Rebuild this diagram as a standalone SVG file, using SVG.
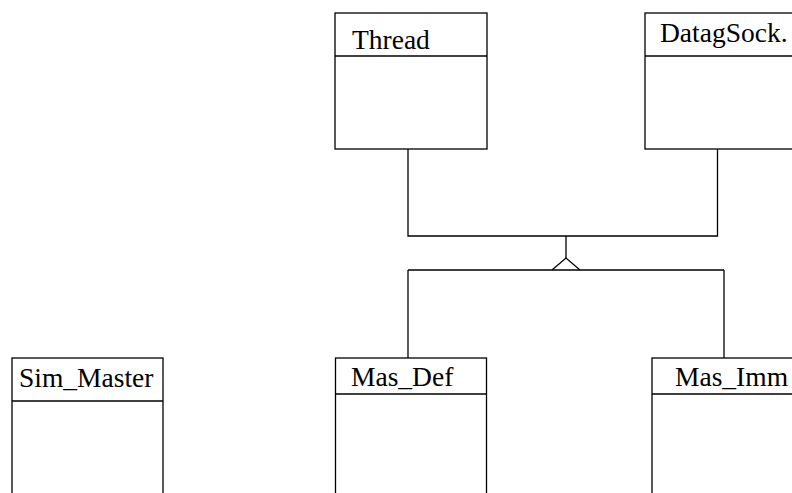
<svg xmlns="http://www.w3.org/2000/svg" width="792" height="493" viewBox="0 0 792 493">
<style>
.box{fill:#fff;stroke:#000;stroke-width:1.3}
.sep{stroke:#000;stroke-width:1.3}
.lbl{font-family:'Liberation Serif','Times New Roman',Times,serif;font-size:27.5px;fill:#000}
.con{fill:none;stroke:#000;stroke-width:1.3}
</style>
<rect width="792" height="493" fill="#fff"/>
<g id="connectors">
<polyline class="con" points="408,149 408,236 717.5,236 717.5,149"/>
<line class="con" x1="566" y1="236" x2="566" y2="258"/>
<polyline class="con" points="552,270 566,258 580,270"/>
<line class="con" x1="408" y1="270" x2="724" y2="270"/>
<line class="con" x1="408" y1="270" x2="408" y2="358"/>
<line class="con" x1="724" y1="270" x2="724" y2="358"/>
</g>
<g id="Thread">
<rect class="box" x="335" y="13" width="152" height="136"/>
<line class="sep" x1="335" y1="56" x2="487" y2="56"/>
<text class="lbl" font-family="Liberation Serif, serif" x="352" y="49">Thread</text>
</g>
<g id="DatagSock">
<rect class="box" x="645" y="13" width="160" height="136"/>
<line class="sep" x1="645" y1="56" x2="805" y2="56"/>
<text class="lbl" font-family="Liberation Serif, serif" x="660" y="42">DatagSock.</text>
</g>
<g id="Sim_Master">
<rect class="box" x="12" y="358" width="151" height="150"/>
<line class="sep" x1="12" y1="401" x2="163" y2="401"/>
<text class="lbl" font-family="Liberation Serif, serif" x="19" y="387">Sim_Master</text>
</g>
<g id="Mas_Def">
<rect class="box" x="335.5" y="358" width="151" height="150"/>
<line class="sep" x1="335.5" y1="394" x2="486.5" y2="394"/>
<text class="lbl" font-family="Liberation Serif, serif" x="351" y="386">Mas_Def</text>
</g>
<g id="Mas_Imm">
<rect class="box" x="652" y="358" width="160" height="150"/>
<line class="sep" x1="652" y1="394" x2="812" y2="394"/>
<text class="lbl" font-family="Liberation Serif, serif" x="675" y="386">Mas_Imm</text>
</g>
</svg>
